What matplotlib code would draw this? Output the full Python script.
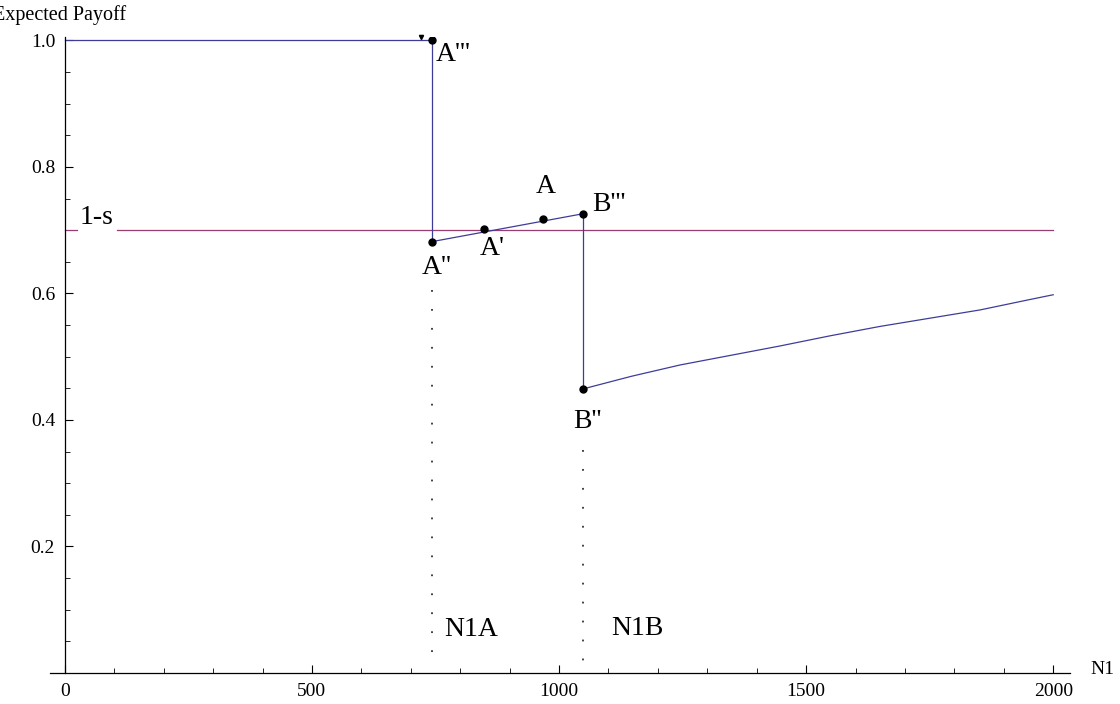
import numpy as np
import matplotlib.pyplot as plt
from matplotlib.ticker import MultipleLocator

plt.rcParams['font.family'] = ['Liberation Serif', 'DejaVu Serif']

# data
n1a = 743
n1b = 1048
s_level = 0.70

top_x = [0, n1a]
top_y = [1.0, 1.0]

mid_x = [n1a, n1b]
mid_y = [0.682, 0.726]

tail_x = [1048, 1146, 1245, 1346, 1447, 1548, 1650, 1751, 1852, 1950, 2000]
tail_y = [0.449, 0.469, 0.487, 0.502, 0.517, 0.533, 0.548, 0.561, 0.574, 0.590, 0.598]

pt_names = ["A'''", "A''", "A'", "A", "B'''", "B''"]
pt_x = [743, 743, 848, 968, 1048, 1048]
pt_y = [1.0, 0.682, 0.702, 0.718, 0.726, 0.449]
lbl_off = [(4, -14), (-10, -26), (-4, -20), (-7, 32), (9, 9), (-10, -33)]

blue = '#3d3d99'
pink = '#993d71'

fig = plt.figure(figsize=(11.2, 7.04), dpi=100)
ax = fig.add_axes([50/1120, 1-673/704, 1020/1120, 636/704])
ax.set_xlim(-30, 2034)
ax.set_ylim(0, 1.0055)

# 1-s line, broken for the label
ax.plot([0, 24], [s_level, s_level], color=pink, lw=0.9)
ax.plot([105, 2000], [s_level, s_level], color=pink, lw=0.9)
ax.text(64, 0.72, '1-s', fontsize=20, ha='center', va='center')

# payoff curve
ax.plot(top_x, top_y, color=blue, lw=0.9)
ax.plot([n1a, n1a], [1.0, mid_y[0]], color=blue, lw=0.9)
ax.plot(mid_x, mid_y, color=blue, lw=0.9)
ax.plot([n1b, n1b], [mid_y[1], tail_y[0]], color=blue, lw=0.9)
ax.plot(tail_x, tail_y, color=blue, lw=0.9)

# little mark left of A'''
ax.plot([721], [1.006], marker='v', ms=3, color='k', clip_on=False)

ax.plot(pt_x, pt_y, 'o', color='k', ms=5, zorder=5)
for name, x, y, (dx, dy) in zip(pt_names, pt_x, pt_y, lbl_off):
    ax.annotate(name, (x, y), xytext=(dx, dy), textcoords='offset pixels',
                fontsize=20, ha='left', va='center')

# dotted markers for N1A, N1B
ax.plot([n1a, n1a], [0.606, 0.02], color='#333333', lw=1.3, ls=(0, (1, 9.5)))
ax.plot([n1b, n1b], [0.353, 0.015], color='#333333', lw=1.3, ls=(0, (1, 9.5)))
ax.text(n1a + 24, 0.068, 'N1A', fontsize=20, va='center', ha='left')
ax.text(n1b + 57, 0.07, 'N1B', fontsize=20, va='center', ha='left')

# mathematica-like axes
for side in ['top', 'right']:
    ax.spines[side].set_visible(False)
ax.spines['left'].set_position(('data', 0))
ax.spines['bottom'].set_position(('data', 0))
ax.spines['left'].set_linewidth(0.9)
ax.spines['bottom'].set_linewidth(0.9)

ax.set_xticks([0, 500, 1000, 1500, 2000])
ax.xaxis.set_minor_locator(MultipleLocator(100))
ax.set_yticks([0.2, 0.4, 0.6, 0.8, 1.0])
ax.set_yticklabels(['0.2', '0.4', '0.6', '0.8', '1.0'])
ax.yaxis.set_minor_locator(MultipleLocator(0.05))
ax.tick_params(direction='in', length=6, width=0.8, labelsize=14, pad=7)
ax.tick_params(which='minor', direction='in', length=3.5, width=0.6)

ax.text(1.02, 0.006, 'N1', transform=ax.transAxes, fontsize=14,
        va='center', ha='left')
fig.text(60/1120, 1-15/704, 'Expected Payoff', fontsize=14.5, ha='center', va='center')

fig.savefig('out.png', dpi=100)
